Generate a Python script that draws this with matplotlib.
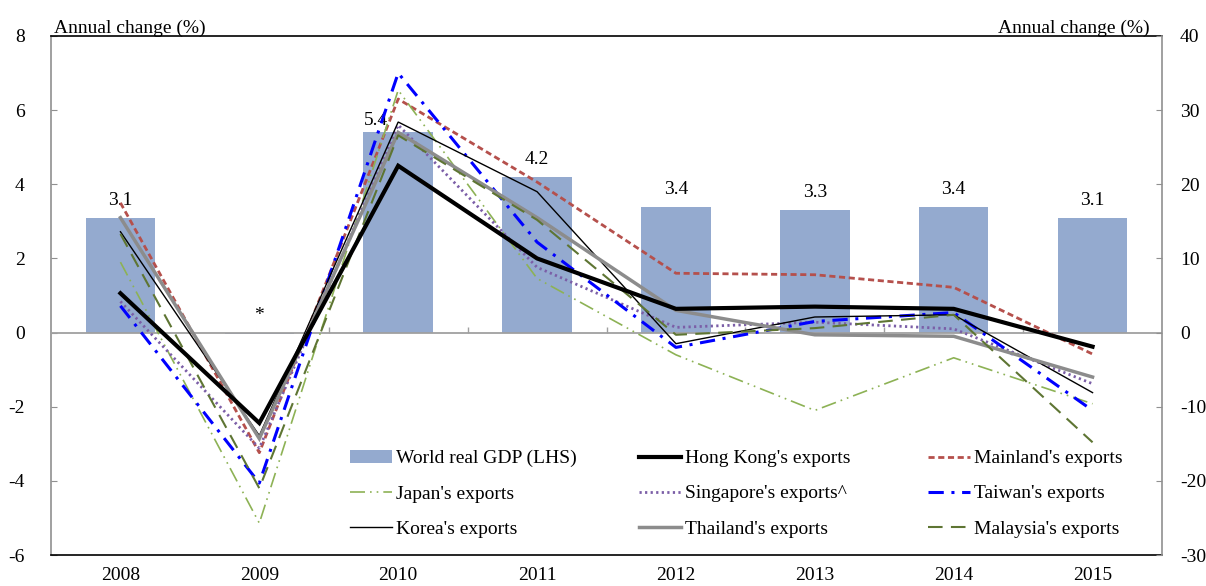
import matplotlib
matplotlib.use("Agg")
import matplotlib.pyplot as plt
from matplotlib.patches import Patch
import numpy as np

plt.rcParams['font.family'] = ['Liberation Serif', 'DejaVu Serif']
plt.rcParams['axes.unicode_minus'] = False

years = ['2008', '2009', '2010', '2011', '2012', '2013', '2014', '2015']

# World real GDP growth (left axis, %)
world_gdp = [3.1, -0.04, 5.4, 4.2, 3.4, 3.3, 3.4, 3.1]
world_gdp_labels = ['3.1', '*', '5.4', '4.2', '3.4', '3.3', '3.4', '3.1']

# Export growth (right axis, %)
hong_kong = [5.3, -12.2, 22.5, 10.0, 3.2, 3.5, 3.2, -1.9]
mainland = [17.5, -16.2, 31.5, 20.3, 8.0, 7.8, 6.1, -2.9]
japan = [9.5, -25.7, 32.7, 7.3, -3.0, -10.5, -3.4, -9.6]
singapore = [4.2, -15.6, 28.0, 8.8, 0.7, 1.4, 0.5, -6.9]
taiwan = [3.6, -20.3, 35.0, 12.2, -2.0, 1.5, 2.7, -10.5]
korea = [13.6, -13.9, 28.4, 19.0, -1.5, 2.1, 2.4, -8.1]
thailand = [15.5, -14.3, 27.0, 15.5, 3.0, -0.3, -0.5, -6.0]
malaysia = [13.3, -21.0, 26.6, 15.2, -0.3, 0.6, 2.4, -14.8]

W, H = 1206, 586
fig = plt.figure(figsize=(W / 100, H / 100), dpi=100)
ax = fig.add_axes([51 / W, 1 - 555 / H, (1162 - 51) / W, (555 - 36) / H])
ax2 = ax.twinx()

x = np.arange(len(years))
bar_color = '#94AACF'
ax.bar(x, world_gdp, width=0.5, color=bar_color, zorder=2)
ax.axhline(0, color='#A0A0A0', lw=1.3, zorder=3)
# category separators on the zero line
ax.vlines(np.arange(len(years) - 1) + 0.5, 0, 0.14, color='#A0A0A0', lw=1.0, zorder=3)

label_dx = {2: -22}
label_dy = {2: 3}
for i, (v, s) in enumerate(zip(world_gdp, world_gdp_labels)):
    ax.annotate(s, (x[i], max(v, 0)), xytext=(label_dx.get(i, 0), label_dy.get(i, 9)),
                textcoords='offset pixels', ha='center', va='bottom', fontsize=14)

ax.set_xlim(-0.5, len(years) - 0.5)
ax.set_ylim(-6, 8)
ax.set_yticks(np.arange(-6, 9, 2))
ax.set_xticks(x)
ax.set_xticklabels(years)
ax.tick_params(axis='x', length=0, pad=9, labelsize=14)
ax.tick_params(axis='y', direction='in', length=4, color='#909090', pad=19, labelsize=14)

ax2.set_ylim(-30, 40)
ax2.set_yticks(np.arange(-30, 41, 10))
ax2.tick_params(axis='y', direction='in', length=4, color='#909090', pad=13, labelsize=14)

series = [
    ("Hong Kong's exports", hong_kong, dict(color='black', lw=3.0, zorder=9)),
    ("Mainland's exports", mainland, dict(color='#B5504C', lw=2.0, dashes=(2.2, 1.3))),
    ("Japan's exports", japan, dict(color='#8DB255', lw=1.2, dashes=(9, 3, 1, 3, 1, 3))),
    ("Singapore's exports^", singapore, dict(color='#7B5EA7', lw=2.0, dashes=(0.8, 1.2))),
    ("Taiwan's exports", taiwan, dict(color='#0000FF', lw=2.2, dashes=(5, 2.5, 1, 2.5))),
    ("Korea's exports", korea, dict(color='black', lw=1.0)),
    ("Thailand's exports", thailand, dict(color='#8C8C8C', lw=2.5)),
    ("Malaysia's exports", malaysia, dict(color='#5E7533', lw=1.5, dashes=(7, 4))),
]
handles = {}
for name, vals, kw in series:
    line, = ax2.plot(x, vals, solid_joinstyle='miter', **kw)
    handles[name] = line
handles['World real GDP (LHS)'] = Patch(facecolor=bar_color)

for a in (ax, ax2):
    for s in a.spines.values():
        s.set_visible(False)
ax.spines['left'].set_visible(True)
ax.spines['left'].set_color('#909090')
ax.spines['top'].set_visible(True)
ax.spines['top'].set_color('black')
ax.spines['bottom'].set_visible(True)
ax.spines['bottom'].set_color('black')
ax2.spines['right'].set_visible(True)
ax2.spines['right'].set_color('#909090')
for s in ('left', 'right', 'top', 'bottom'):
    ax.spines[s].set_linewidth(1.2)
ax2.spines['right'].set_linewidth(1.2)

ax.text(0.003, 0.999, 'Annual change (%)', transform=ax.transAxes,
        ha='left', va='bottom', fontsize=14)
ax.text(0.989, 0.999, 'Annual change (%)', transform=ax.transAxes,
        ha='right', va='bottom', fontsize=14)

columns = [
    (350, ['World real GDP (LHS)', "Japan's exports", "Korea's exports"]),
    (639, ["Hong Kong's exports", "Singapore's exports^", "Thailand's exports"]),
    (928, ["Mainland's exports", "Taiwan's exports", "Malaysia's exports"]),
]
for xpix, names in columns:
    fig.legend([handles[n] for n in names], names, loc='upper left',
               bbox_to_anchor=(xpix / W, 1 - 450 / H), frameon=False,
               borderpad=0, borderaxespad=0, handlelength=2.15,
               handletextpad=0.22, labelspacing=0.94, fontsize=14,
               handleheight=0.6)

fig.savefig('out.png', dpi=100)
